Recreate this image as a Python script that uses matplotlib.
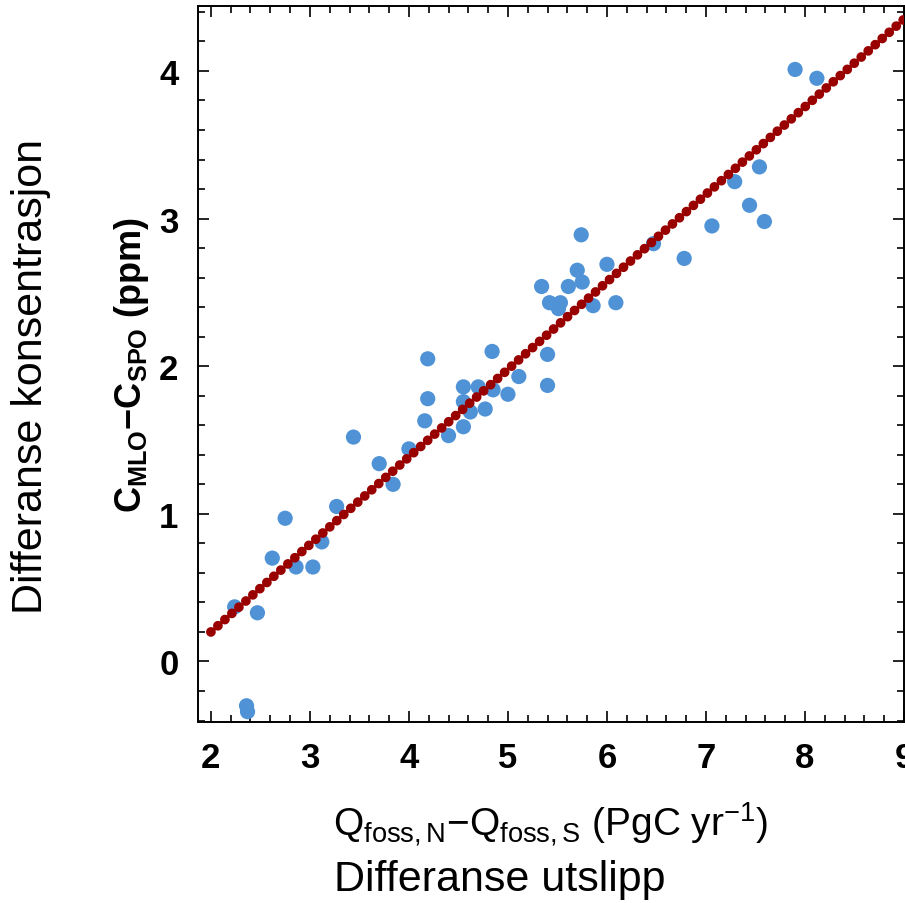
import matplotlib
matplotlib.use("Agg")
import matplotlib.pyplot as plt
from matplotlib.ticker import MultipleLocator

plt.rcParams['font.family'] = ['Liberation Sans', 'DejaVu Sans']
plt.rcParams['mathtext.fontset'] = 'custom'
plt.rcParams['mathtext.rm'] = 'Liberation Sans'
plt.rcParams['mathtext.it'] = 'Liberation Sans'
plt.rcParams['mathtext.bf'] = 'Liberation Sans:bold'
plt.rcParams['mathtext.default'] = 'regular'

# emission difference (PgC/yr) vs concentration difference (ppm)
emis = [2.36, 2.37, 2.24, 2.47, 2.62, 2.75, 2.86, 3.03, 3.12, 3.27,
        3.44, 3.70, 3.84, 4.00, 4.16, 4.19, 4.19, 4.40, 4.55, 4.55,
        4.55, 4.62, 4.70, 4.77, 4.84, 4.85, 5.00, 5.11, 5.40, 5.40,
        5.34, 5.42, 5.53, 5.51, 5.61, 5.70, 5.75, 5.74, 5.86, 6.00,
        6.09, 6.47, 6.78, 7.06, 7.29, 7.44, 7.54, 7.59, 7.90, 8.12]
conc = [-0.30, -0.34, 0.37, 0.33, 0.70, 0.97, 0.64, 0.64, 0.81, 1.05,
        1.52, 1.34, 1.20, 1.44, 1.63, 2.05, 1.78, 1.53, 1.59, 1.86,
        1.76, 1.69, 1.86, 1.71, 2.10, 1.84, 1.81, 1.93, 2.08, 1.87,
        2.54, 2.43, 2.43, 2.39, 2.54, 2.65, 2.57, 2.89, 2.41, 2.69,
        2.43, 2.83, 2.73, 2.95, 3.25, 3.09, 3.35, 2.98, 4.01, 3.95]

# fitted line end points
fit_x = [2.0, 9.0]
fit_y = [0.20, 4.35]

fig = plt.figure(figsize=(9.05, 9.04), dpi=100)
ax = fig.add_axes([0.2188, 0.2002, 0.7801, 0.7921])

ax.scatter(emis, conc, s=120, color='#4f93d6', edgecolors='none', zorder=2)
ax.plot(fit_x, fit_y, color='#990000', lw=7, linestyle=(0, (0.01, 0.95)),
        dash_capstyle='round', zorder=3)

ax.set_xlim(1.87, 9.0)
ax.set_ylim(-0.41, 4.44)
ax.xaxis.set_major_locator(MultipleLocator(1))
ax.xaxis.set_minor_locator(MultipleLocator(0.2))
ax.yaxis.set_major_locator(MultipleLocator(1))
ax.yaxis.set_minor_locator(MultipleLocator(0.2))

ax.tick_params(which='both', direction='in', top=True, right=True, width=1.2)
ax.tick_params(which='major', length=8)
ax.tick_params(which='minor', length=5)
ax.tick_params(axis='x', which='major', pad=14, labelsize=25)
ax.tick_params(axis='y', which='major', pad=14, labelsize=25)
for lab in ax.get_xticklabels() + ax.get_yticklabels():
    lab.set_fontweight('bold')
for sp in ax.spines.values():
    sp.set_linewidth(1.4)

ax.set_xlabel('$Q_{foss,N}$\u2212$Q_{foss,S}$ (PgC yr$^{-1}$)', fontsize=28, labelpad=18)
ax.set_ylabel(r'$\mathbf{C_{MLO}}$$\mathbf{-}$$\mathbf{C_{SPO}}$ (ppm)', fontsize=26,
              fontweight='bold', labelpad=6)

fig.text(0.552, 0.026, 'Differanse utslipp', fontsize=31, ha='center', va='center')
fig.text(0.034, 0.584, 'Differanse konsentrasjon', fontsize=31, ha='center',
         va='center', rotation=90)

fig.savefig('out.png', dpi=100)
